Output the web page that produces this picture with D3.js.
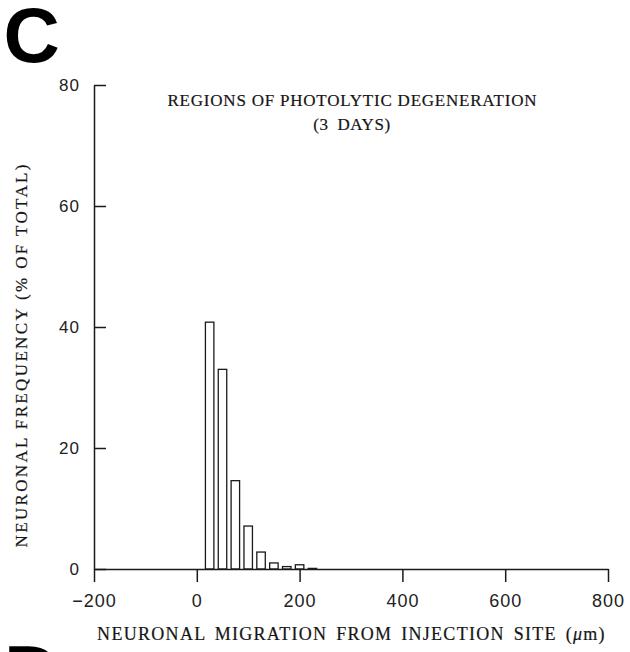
<!DOCTYPE html>
<html>
<head>
<meta charset="utf-8">
<script src="https://cdn.jsdelivr.net/npm/d3@7"></script>
<style>
  body { margin: 0; background: #fff; }
  .histogram svg { display: block; }
  .serif { font-family: 'Liberation Serif', serif; fill: #151515; stroke: #151515; stroke-width: 0.2px; }
</style>
</head>
<body>
<div class="histogram"></div>
<script>
'use strict'

// Data (bins are 25 um wide).
const binCenters = [25, 50, 75, 100, 125, 150, 175, 200, 225];
const frequencies = [40.8, 33.0, 14.6, 7.1, 2.8, 1.0, 0.4, 0.7, 0.1];
const xTicks = [-200, 0, 200, 400, 600, 800];
const yTicks = [0, 20, 40, 60, 80];
const binWidth = 16.5;

let data = binCenters.map((c, i) => ({center: c, value: frequencies[i]}));

// Dimensions.
let width = 630,
    height = 652,
    margin = {top: 85, right: 22, bottom: 83, left: 94};

let svg = d3.select('.histogram')
    .append('svg')
        .attr('width', width)
        .attr('height', height);

// Scales.
let x = d3.scaleLinear()
    .domain([-200, 800])
    .range([margin.left, width - margin.right]);

let y = d3.scaleLinear()
    .domain([0, 80])
    .range([height - margin.bottom, margin.top]);

// Bars.
svg.append('g')
    .attr('class', 'bars')
    .selectAll('rect')
    .data(data)
    .join('rect')
        .attr('x', d => x(d.center - binWidth / 2))
        .attr('width', d => x(d.center + binWidth / 2) - x(d.center - binWidth / 2))
        .attr('y', d => y(d.value))
        .attr('height', d => y(0) - y(d.value))
        .attr('fill', '#fff')
        .attr('stroke', '#1a1a1a')
        .attr('stroke-width', 1.3);

// X axis.
svg.append('g')
    .attr('transform', `translate(0, ${y(0)})`)
    .call(d3.axisBottom(x).tickValues(xTicks).tickSize(13).tickSizeOuter(0).tickPadding(12))
    .call(g => g.selectAll('path, line').attr('stroke', '#1a1a1a').attr('stroke-width', 1.5))
    .call(g => g.selectAll('text')
        .attr('fill', '#222')
        .style('font-family', "'Liberation Sans', Arial, sans-serif")
        .style('font-size', '18px')
        .style('letter-spacing', '1px'));

// Y axis.
svg.append('g')
    .attr('transform', `translate(${x(-200)}, 0)`)
    .call(d3.axisLeft(y).tickValues(yTicks).tickSize(-12).tickSizeOuter(0).tickPadding(14))
    .call(g => g.selectAll('path, line').attr('stroke', '#1a1a1a').attr('stroke-width', 1.5))
    .call(g => g.selectAll('text')
        .attr('fill', '#222')
        .style('font-family', "'Liberation Sans', Arial, sans-serif")
        .style('font-size', '17px')
        .style('letter-spacing', '1px'));

// Title.
svg.append('text')
    .attr('class', 'serif')
    .attr('x', 352)
    .attr('y', 106)
    .attr('text-anchor', 'middle')
    .attr('textLength', 369)
    .attr('lengthAdjust', 'spacing')
    .style('font-size', '17px')
    .text('REGIONS OF PHOTOLYTIC DEGENERATION');

svg.append('text')
    .attr('class', 'serif')
    .attr('x', 352)
    .attr('y', 130)
    .attr('text-anchor', 'middle')
    .style('font-size', '17px')
    .style('letter-spacing', '0.6px')
    .style('word-spacing', '4px')
    .text('(3 DAYS)');

// Axis titles.
let xLabel = svg.append('text')
    .attr('class', 'serif')
    .attr('x', 351.5)
    .attr('y', 640)
    .attr('text-anchor', 'middle')
    .style('font-size', '18px')
    .style('letter-spacing', '1.3px')
    .style('word-spacing', '3px');
xLabel.append('tspan').text('NEURONAL MIGRATION FROM INJECTION SITE (');
xLabel.append('tspan').style('font-style', 'italic').text('\u03bc');
xLabel.append('tspan').text('m)');

svg.append('text')
    .attr('class', 'serif')
    .attr('transform', 'translate(27, 356) rotate(-90)')
    .attr('text-anchor', 'middle')
    .attr('textLength', 383)
    .attr('lengthAdjust', 'spacing')
    .style('font-size', '17px')
    .text('NEURONAL FREQUENCY (% OF TOTAL)');

// Panel letters.
svg.append('text')
    .attr('x', 3.5)
    .attr('y', 62)
    .style('font-family', "'Liberation Sans', Arial, sans-serif")
    .style('font-weight', 'bold')
    .style('font-size', '78px')
    .text('C');

svg.append('text')
    .attr('x', 4)
    .attr('y', 700)
    .style('font-family', "'Liberation Sans', Arial, sans-serif")
    .style('font-weight', 'bold')
    .style('font-size', '78px')
    .text('D');
</script>
</body>
</html>
